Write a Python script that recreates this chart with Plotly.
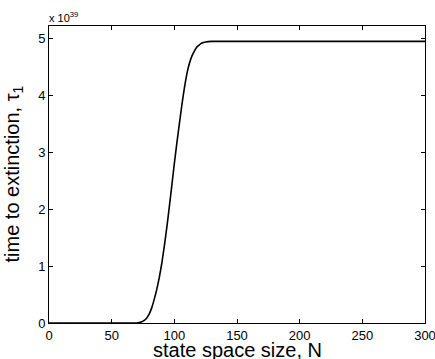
import plotly.graph_objects as go

# state space size N
N = [0, 50, 65, 70, 72, 74, 76, 78, 80, 82, 84, 86, 88, 90, 92, 94, 96, 98,
     100, 102, 104, 106, 108, 110, 112, 114, 116, 118, 120, 122, 125, 130,
     150, 200, 250, 300]
# time to extinction tau_1, in units of 1e39
tau1 = [0, 0, 0, 0, 0.008, 0.02, 0.045, 0.09, 0.16, 0.27, 0.42, 0.59, 0.80,
        1.05, 1.35, 1.68, 2.04, 2.42, 2.80, 3.16, 3.50, 3.83, 4.13, 4.38,
        4.56, 4.69, 4.78, 4.85, 4.89, 4.92, 4.94, 4.95, 4.95, 4.95, 4.95, 4.95]

xticks = [0, 50, 100, 150, 200, 250, 300]
yticks = [0, 1, 2, 3, 4, 5]

font = "Liberation Sans, Arial, Helvetica, sans-serif"

fig = go.Figure()
fig.add_trace(go.Scatter(x=N, y=tau1, mode="lines",
                         line=dict(color="black", width=1.6, shape="spline", smoothing=0.3),
                         showlegend=False, hoverinfo="skip"))

fig.update_layout(
    width=435, height=359,
    margin=dict(l=49, r=10, t=26, b=36, autoexpand=False),
    paper_bgcolor="white", plot_bgcolor="white",
    font=dict(family=font, color="black", size=13),
)
fig.update_xaxes(
    range=[0, 300], tickvals=xticks, ticktext=[str(v) for v in xticks],
    ticks="inside", ticklen=4, tickcolor="black", tickwidth=1,
    showline=True, linecolor="black", linewidth=1, mirror="ticks",
    showgrid=False, zeroline=False, automargin=False, ticklabeloverflow="allow",
    tickfont=dict(size=13, family=font),
)
fig.update_yaxes(
    range=[0, 5.22], tickvals=yticks, ticktext=[str(v) for v in yticks],
    ticks="inside", ticklen=4, tickcolor="black", tickwidth=1,
    showline=True, linecolor="black", linewidth=1, mirror="ticks",
    showgrid=False, zeroline=False, automargin=False, ticklabeloverflow="allow",
    tickfont=dict(size=13, family=font),
)
# axis titles as annotations for exact placement
fig.add_annotation(
    x=0.5, y=0, xref="paper", yref="paper", xanchor="center", yanchor="top",
    text="state space size, N", showarrow=False,
    font=dict(size=20, family=font), yshift=-14,
)
fig.add_annotation(
    x=0, y=0.5, xref="paper", yref="paper", xanchor="center", yanchor="middle",
    text="time to extinction, τ<sub>1</sub>", showarrow=False, textangle=-90,
    font=dict(size=20, family=font), xshift=-36,
)
fig.add_annotation(
    x=0, y=1, xref="paper", yref="paper", xanchor="left", yanchor="bottom",
    text="x 10<sup>39</sup>", showarrow=False, font=dict(size=11, family=font),
    xshift=-2, yshift=0,
)
fig.write_html("out.html", config={"displayModeBar": False},
               post_script="document.body.style.margin='0';document.body.style.overflow='hidden';")
